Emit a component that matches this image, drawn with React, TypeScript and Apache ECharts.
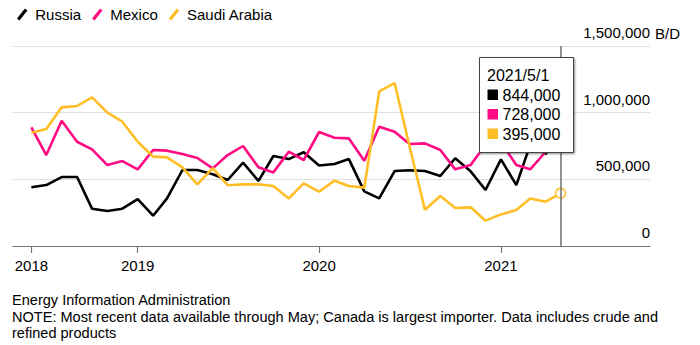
import React, { useEffect, useRef } from "react";
import * as echarts from "echarts";

const months: string[] = [
  "2018-06-01", "2018-07-01", "2018-08-01", "2018-09-01", "2018-10-01", "2018-11-01",
  "2018-12-01", "2019-01-01", "2019-02-01", "2019-03-01", "2019-04-01", "2019-05-01",
  "2019-06-01", "2019-07-01", "2019-08-01", "2019-09-01", "2019-10-01", "2019-11-01",
  "2019-12-01", "2020-01-01", "2020-02-01", "2020-03-01", "2020-04-01", "2020-05-01",
  "2020-06-01", "2020-07-01", "2020-08-01", "2020-09-01", "2020-10-01", "2020-11-01",
  "2020-12-01", "2021-01-01", "2021-02-01", "2021-03-01", "2021-04-01", "2021-05-01",
];

const russia: number[] = [
  440000, 457000, 517000, 517000, 280000, 262000, 280000, 352000, 227000, 357000, 570000, 570000,
  538000, 495000, 625000, 488000, 675000, 652000, 703000, 604000, 615000, 652000, 410000, 357000,
  562000, 568000, 562000, 525000, 658000, 560000, 420000, 650000, 457000, 760000, 690000, 844000,
];

const mexico: number[] = [
  890000, 682000, 940000, 782000, 725000, 607000, 637000, 575000, 720000, 715000, 690000, 660000,
  582000, 682000, 750000, 590000, 552000, 707000, 645000, 855000, 812000, 807000, 640000, 895000,
  857000, 765000, 770000, 720000, 575000, 607000, 760000, 780000, 607000, 575000, 707000, 728000,
];

const saudi: number[] = [
  850000, 877000, 1040000, 1050000, 1115000, 1000000, 932000, 782000, 670000, 665000, 590000, 462000,
  584000, 456000, 462000, 462000, 450000, 357000, 470000, 407000, 490000, 450000, 438000, 1160000,
  1222000, 748000, 272000, 375000, 285000, 290000, 190000, 237000, 270000, 357000, 332000, 395000,
];

const seriesNames: string[] = ["Russia", "Mexico", "Saudi Arabia"];
const seriesColors: string[] = ["#000000", "#ff0a82", "#ffbe26"];
const yearTicks: string[] = ["2018-06-01", "2019-01-01", "2020-01-01", "2021-01-01"];
const footerLines: string[] = [
  "Energy Information Administration",
  "NOTE: Most recent data available through May; Canada is largest importer. Data includes crude and",
  "refined products",
];

const FONT = "'Liberation Sans', Arial, Helvetica, sans-serif";

function parseLocal(s: string): number {
  const [y, m, d] = s.split("-").map(Number);
  return new Date(y, m - 1, d).getTime();
}

const fmt = (v: number) => v.toLocaleString("en-US");

export default function App() {
  const ref = useRef<HTMLDivElement>(null);

  useEffect(() => {
    document.body.style.margin = "0";
    if (!ref.current) return;
    const chart = echarts.init(ref.current, undefined, { renderer: "svg" });
    const allSeries = [russia, mexico, saudi];
    const lastIdx = months.length - 1;
    const last = months[lastIdx].split("-").map(Number);
    const tipDate = `${last[0]}/${last[1]}/${last[2]}`;
    const tickVals = yearTicks.map(parseLocal);
    const xs = months.map(parseLocal);

    const series: any[] = allSeries.map((vals, si) => ({
      name: seriesNames[si],
      type: "line",
      symbol: "none",
      lineStyle: { width: 2.6, color: seriesColors[si] },
      itemStyle: { color: seriesColors[si] },
      data: vals.map((v, i) => {
        if (si === 2 && i === lastIdx) {
          return {
            value: [xs[i], v],
            symbol: "circle",
            symbolSize: 10,
            itemStyle: { color: "#fff", borderColor: seriesColors[si], borderWidth: 1.5 },
          };
        }
        return [xs[i], v];
      }),
      z: 2 + si,
    }));
    series[0].markLine = {
      silent: true,
      symbol: "none",
      label: { show: false },
      lineStyle: { color: "#6e6e6e", width: 1.5, type: "solid" },
      data: [{ xAxis: xs[lastIdx] }],
    };

    const rowY = [95, 114.5, 134];
    const tipChildren: any[] = [
      {
        type: "rect",
        z: 100,
        shape: { x: 479.5, y: 57.5, width: 94, height: 95 },
        style: {
          fill: "#fff",
          stroke: "#444",
          lineWidth: 1,
          shadowBlur: 2,
          shadowOffsetX: 1,
          shadowOffsetY: 1,
          shadowColor: "rgba(0,0,0,0.45)",
        },
      },
      {
        type: "text",
        z: 101,
        x: 487,
        y: 75,
        style: { text: tipDate, fontSize: 16, fontFamily: FONT, fill: "#000", verticalAlign: "middle" },
      },
    ];
    allSeries.forEach((vals, si) => {
      tipChildren.push({
        type: "rect",
        z: 101,
        shape: { x: 487.5, y: rowY[si] - 5.5, width: 10.5, height: 10.5 },
        style: { fill: seriesColors[si] },
      });
      tipChildren.push({
        type: "text",
        z: 101,
        x: 502.5,
        y: rowY[si],
        style: {
          text: fmt(vals[lastIdx]),
          fontSize: 16,
          fontFamily: FONT,
          fill: "#000",
          verticalAlign: "middle",
        },
      });
    });

    const footer = footerLines.map((t, i) => ({
      type: "text",
      x: 12,
      y: 300 + i * 16.5,
      style: { text: t, fontSize: 14.55, fontFamily: FONT, fill: "#000", verticalAlign: "middle" },
    }));

    chart.setOption({
      animation: false,
      backgroundColor: "#fff",
      textStyle: { fontFamily: FONT },
      legend: {
        left: 12,
        top: 2,
        itemWidth: 12,
        itemHeight: 12,
        itemGap: 11,
        icon: "path://M0,9.6 L7.6,0 L10,1.9 L2.4,11.5 Z",
        textStyle: { fontSize: 15, color: "#000", fontFamily: FONT, padding: [0, 0, 0, 2] },
        data: seriesNames,
      },
      grid: { left: 13, right: 50, top: 46, bottom: 99, containLabel: false },
      xAxis: {
        type: "value",
        min: parseLocal("2018-04-25"),
        max: parseLocal("2021-10-28"),
        axisLine: { show: true, lineStyle: { color: "#777", width: 1.2 } },
        axisTick: { show: true, length: 7, lineStyle: { color: "#777", width: 1.2 }, customValues: tickVals },
        axisLabel: {
          customValues: tickVals,
          formatter: (v: number) => String(new Date(v).getFullYear()),
          fontSize: 15,
          color: "#000",
          margin: 12,
          fontFamily: FONT,
        },
        splitLine: { show: false },
      },
      yAxis: {
        type: "value",
        position: "right",
        min: 0,
        max: 1500000,
        interval: 500000,
        axisLine: { show: false },
        axisTick: { show: false },
        splitLine: { lineStyle: { color: "#e0e0e0", width: 1.2 } },
        axisLabel: {
          inside: true,
          margin: 0,
          align: "right",
          verticalAlign: "bottom",
          padding: [0, 0, 6, 0],
          formatter: (v: number) => fmt(v),
          fontSize: 15,
          color: "#000",
          fontFamily: FONT,
        },
      },
      series,
      graphic: [
        {
          type: "text",
          x: 655,
          y: 33,
          style: { text: "B/D", fontSize: 15, fontFamily: FONT, fill: "#000", verticalAlign: "middle" },
        },
        ...tipChildren,
        ...footer,
      ],
    });

    return () => chart.dispose();
  }, []);

  return <div ref={ref} style={{ width: 700, height: 345 }} />;
}
